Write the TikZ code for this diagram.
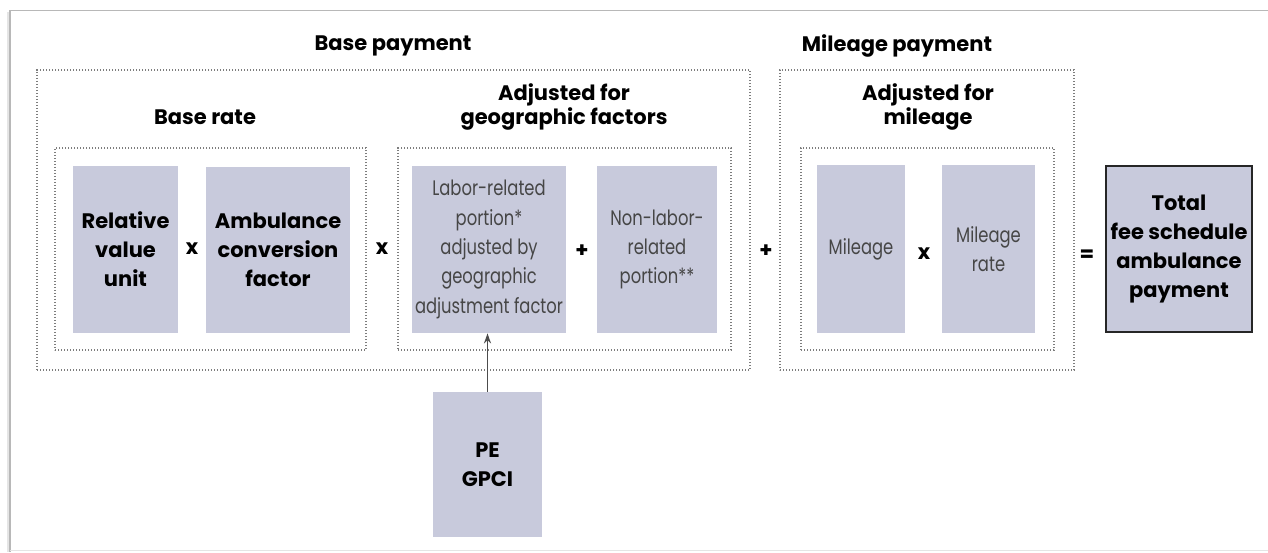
\documentclass[tikz,border=0pt]{standalone}
\usepackage{fontspec}
\setmainfont{Poppins}
\newfontfamily\lightfont[FakeStretch=0.78]{Poppins}
\usetikzlibrary{arrows.meta}
\definecolor{boxfill}{RGB}{200,202,220}
\definecolor{dotgray}{RGB}{125,125,125}
\definecolor{textgray}{RGB}{70,70,70}

\begin{document}
\begin{tikzpicture}[x=0.5pt, y=-0.5pt,
  wh/.style 2 args={minimum width=#1*0.5pt, minimum height=#2*0.5pt},
  frame/.style={draw=dotgray, line width=0.7pt, dash pattern=on 0.7pt off 0.8pt, inner sep=0pt},
  term/.style={fill=boxfill, inner sep=0pt, align=center, font=\bfseries\fontsize{10.5}{14.5}\selectfont},
  lightterm/.style={term, text=textgray, font=\lightfont\fontsize{10.5}{14.7}\selectfont},
  title/.style={align=center, inner sep=0pt, font=\bfseries\fontsize{10.5}{11.2}\selectfont},
  op/.style={inner sep=1pt, font=\bfseries\fontsize{10.5}{12}\selectfont}]
\useasboundingbox (0,0) rectangle (1268,552);
\draw[black!28, line width=0.8pt] (10,552)--(10,10.5)--(1268,10.5);
\draw[black!10, line width=1.2pt] (8,12)--(8,552);
\draw[black!10, line width=0.8pt] (10,550.5)--(1268,550.5);

\node[frame, wh={713}{300}] (baseframe) at (393.5,220) {};
\node[frame, wh={294}{300}] (mileframe) at (927,220) {};
\node[frame, wh={311}{202}] (rateframe) at (210.5,249) {};
\node[frame, wh={333}{202}] (geoframe) at (564.5,249) {};
\node[frame, wh={253}{202}] (milesub) at (927.5,249) {};

\node[title] (basetitle) at (393,46) {Base payment};
\node[title] (miletitle) at (897,46) {Mileage payment};
\node[title] (ratetitle) at (205,117) {Base rate};
\node[title] (geotitle) at (564,107) {Adjusted for\\geographic factors};
\node[title] (miletitle2) at (928,107) {Adjusted for\\mileage};

\node[term, wh={105}{167}] (rvu) at (125.5,249.5) {Relative\\value\\unit};
\node[term, wh={144}{166}] (acf) at (278,250) {Ambulance\\conversion\\factor};
\node[lightterm, wh={154}{167}] (labor) at (489,249.5) {Labor-related\\portion*\\adjusted by\\geographic\\adjustment factor};
\node[lightterm, wh={120}{167}] (nonlabor) at (657,249.5) {Non-labor-\\related\\portion**};
\node[lightterm, wh={88}{168}] (mileage) at (861,249) {Mileage};
\node[lightterm, wh={93}{168}] (milerate) at (988.5,249) {Mileage\\rate};
\node[term, draw=black!85, line width=1.3pt, wh={146}{166}] (total) at (1179,249) {Total\\fee schedule\\ambulance\\payment};
\node[term, wh={109}{145}] (gpci) at (487.5,464.5) {PE\\GPCI};

\node[op] (times1) at (192,249) {x};
\node[op] (times2) at (382,249) {x};
\node[op] (plus1) at (582,251) {+};
\node[op] (plus2) at (766,251) {+};
\node[op] (times3) at (924,254) {x};
\node[op] (equals) at (1087,256) {=};

\draw[black!70, line width=0.8pt, -{Stealth[length=5pt, width=3.5pt]}] (gpci.north) -- (gpci.north |- labor.south);
\end{tikzpicture}
\end{document}
